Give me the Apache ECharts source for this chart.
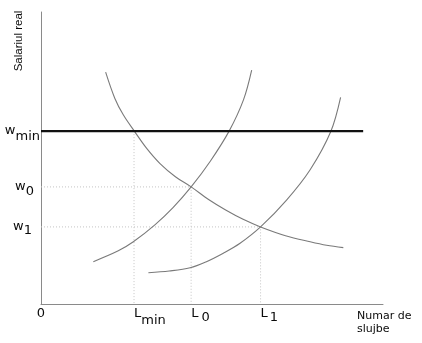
<!DOCTYPE html>
<html><head><meta charset="utf-8">
<script src="https://cdn.jsdelivr.net/npm/echarts@6/dist/echarts.min.js"></script>
<style>html,body{margin:0;padding:0;background:#fff}#c{width:422px;height:343px}</style>
</head><body><div id="c"></div>
<script>
// Tick positions and labels (main part, subscript part)
const xTicks = [0, 27.2, 43.9, 64.2];
const xTickLabels = [['0', ''], ['L', 'min'], ['L', '0'], ['L', '1']];
const yTicks = [59.2, 40.1, 26.4];
const yTickLabels = [['w', 'min'], ['w', '0'], ['w', '1']];
const minWageEndX = 94.2;
// Curves
const demandX = [18.9, 21.6, 24.1, 27.3, 30.9, 34.8, 39.3, 43.9, 49.0, 54.0, 59.1, 64.2, 71.5, 78.7, 83.5, 88.4];
const demandY = [79.4, 70.4, 64.7, 59.2, 53.3, 48.1, 43.6, 40.1, 35.8, 32.2, 29.0, 26.4, 23.4, 21.3, 20.1, 19.3];
const supply1X = [15.3, 22.6, 27.0, 33.3, 38.6, 43.9, 49.5, 55.0, 59.2, 61.6];
const supply1Y = [14.5, 18.2, 21.3, 27.1, 33.0, 40.1, 48.9, 59.2, 69.9, 80.1];
const supply2X = [31.4, 37.5, 43.6, 48.2, 53.3, 58.2, 64.2, 71.8, 78.7, 84.7, 87.6];
const supply2Y = [10.7, 11.3, 12.4, 14.4, 17.4, 20.8, 26.4, 35.6, 46.0, 59.0, 70.8];
const yAxisTitle = 'Salariul real';
const xAxisTitle = 'Numar de\nslujbe';

const zip = (xs, ys) => xs.map((x, i) => [x, ys[i]]);
const FONT = 'DejaVu Sans';
const TXT = '#0a0a0a';
const base = { fontFamily: FONT, fontSize: 13, lineHeight: 14, verticalAlign: 'top', color: TXT };

const xRich = {
  m: Object.assign({}, base),
  smin: Object.assign({}, base, { padding: [7, 0, 0, 0] }),
  s0: Object.assign({}, base, { padding: [4, 0, 0, 3] }),
  s1: Object.assign({}, base, { padding: [4, 0, 0, 2] })
};
const yRich = {
  m: Object.assign({}, base),
  smin: Object.assign({}, base, { padding: [6, 0, 0, 0] }),
  s0: Object.assign({}, base, { padding: [5, 6, 0, 0] }),
  s1: Object.assign({}, base, { padding: [4, 8, 0, 0] })
};
function subKey(s) { return s === 'min' ? 'smin' : (s === '0' ? 's0' : 's1'); }
function findIdx(arr, v) { return arr.findIndex(t => Math.abs(t - v) < 1e-6); }

const guides = [
  [[xTicks[1], yTicks[0]], [xTicks[1], 0]],
  [[0, yTicks[1]], [xTicks[2], yTicks[1]], [xTicks[2], 0]],
  [[0, yTicks[2]], [xTicks[3], yTicks[2]], [xTicks[3], 0]]
];

const chart = echarts.init(document.getElementById('c'));
const curveStyle = { color: '#7a7a7a', width: 1.1 };
const curve = (xs, ys) => ({ type: 'line', data: zip(xs, ys), smooth: 0.35,
  symbol: 'none', lineStyle: curveStyle });
chart.setOption({
  animation: false,
  backgroundColor: '#fff',
  grid: { left: 41, top: 12, right: 39, bottom: 39 },
  xAxis: {
    type: 'value', min: 0, max: 100,
    axisLine: { lineStyle: { color: '#8a8a8a', width: 1 } },
    axisTick: { show: false },
    splitLine: { show: false },
    axisLabel: {
      customValues: xTicks,
      align: 'left', alignMinLabel: 'center', verticalAlign: 'top', margin: 3,
      formatter: function (v) {
        const i = findIdx(xTicks, v);
        if (i < 0) return '';
        const p = xTickLabels[i];
        return '{m|' + p[0] + '}' + (p[1] ? '{' + subKey(p[1]) + '|' + p[1] + '}' : '');
      },
      rich: xRich
    }
  },
  yAxis: {
    type: 'value', min: 0, max: 100,
    axisLine: { show: true, lineStyle: { color: '#8a8a8a', width: 1 } },
    axisTick: { show: false },
    splitLine: { show: false },
    axisLabel: {
      customValues: yTicks,
      margin: 1,
      formatter: function (v) {
        const i = findIdx(yTicks, v);
        if (i < 0) return '';
        const p = yTickLabels[i];
        return '{m|' + p[0] + '}{' + subKey(p[1]) + '|' + p[1] + '}';
      },
      rich: yRich
    }
  },
  series: guides.map(g => ({
    type: 'line', data: g, symbol: 'none', silent: true,
    lineStyle: { color: '#c4c4c4', width: 1, type: [1, 2] }
  })).concat([
    curve(demandX, demandY),
    curve(supply1X, supply1Y),
    curve(supply2X, supply2Y),
    { type: 'line', data: [[0, yTicks[0]], [minWageEndX, yTicks[0]]], symbol: 'none',
      lineStyle: { color: '#111', width: 2.2 } }
  ]),
  graphic: [
    { type: 'text', x: 18.5, y: 41, rotation: Math.PI / 2,
      style: { text: yAxisTitle, font: '11.5px "Liberation Sans"', fill: TXT, align: 'center', verticalAlign: 'middle' } },
    { type: 'text', x: 357, y: 310,
      style: { text: xAxisTitle, font: '11px "DejaVu Sans"', fill: TXT, lineHeight: 13, align: 'left', verticalAlign: 'top' } }
  ]
});
</script></body></html>
